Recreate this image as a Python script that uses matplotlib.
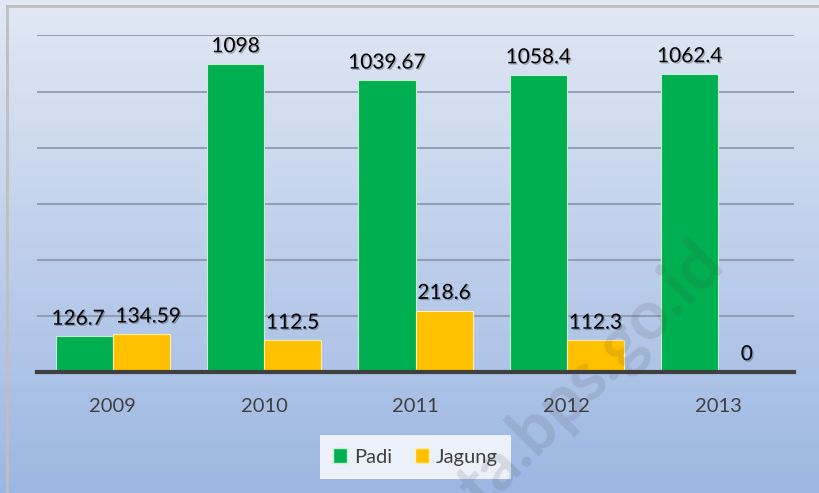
import numpy as np
import matplotlib
matplotlib.use("Agg")
import matplotlib.pyplot as plt
import matplotlib.patheffects as pe
from matplotlib.patches import Patch
from matplotlib.lines import Line2D

years = ["2009", "2010", "2011", "2012", "2013"]
padi = [126.7, 1098, 1039.67, 1058.4, 1062.4]
jagung = [134.59, 112.5, 218.6, 112.3, 0]
padi_labels = ["126.7", "1098", "1039.67", "1058.4", "1062.4"]
jagung_labels = ["134.59", "112.5", "218.6", "112.3", "0"]
series_names = ["Padi", "Jagung"]

GREEN = "#00B050"
YELLOW = "#FFC000"
FONT = ["Lato", "DejaVu Sans"]

W, H = 819, 493
fig = plt.figure(figsize=(W / 100, H / 100), dpi=100)

# background gradient
bg = fig.add_axes([0, 0, 1, 1], zorder=-10)
top = np.array([0.886, 0.910, 0.957])
bot = np.array([0.612, 0.718, 0.890])
t = np.linspace(0, 1, 256)[:, None]
grad = top[None, None, :] * (1 - t[..., None]) + bot[None, None, :] * t[..., None]
grad = np.repeat(grad, 2, axis=1)
bg.imshow(grad, aspect="auto", extent=[0, 1, 0, 1], origin="upper")
bg.set_xlim(0, 1); bg.set_ylim(0, 1)
bg.axis("off")
# frame lines (top and left)
bg.add_line(Line2D([7 / W, 1], [1 - 5.5 / H, 1 - 5.5 / H], color="#bfbfbf", lw=2))
bg.add_line(Line2D([7 / W, 7 / W], [0, 1 - 5.5 / H], color="#bfbfbf", lw=2))

ax = fig.add_axes([37 / W, 121 / H, 757 / W, 336.6 / H])
ax.set_facecolor("none")
x = np.arange(len(years))
bw = 0.377
b1 = ax.bar(x - bw / 2, padi, bw, color=GREEN, edgecolor="#c8f0d0", linewidth=0.8, zorder=3)
b2 = ax.bar(x + bw / 2, jagung, bw, color=YELLOW, edgecolor="#fff0b0", linewidth=0.8, zorder=3)

ax.set_xlim(-0.5, len(years) - 0.5)
ax.set_ylim(0, 1200)
ax.set_yticks([200, 400, 600, 800, 1000, 1200])
ax.yaxis.grid(True, color="#8f99ad", lw=1.3, zorder=0)
ax.tick_params(axis="y", left=False, labelleft=False)
for s in ["top", "right", "left"]:
    ax.spines[s].set_visible(False)
ax.spines["bottom"].set_color("#404040")
ax.spines["bottom"].set_linewidth(3)
ax.spines["bottom"].set_zorder(5)
ax.set_xticks(x)
ax.set_xticklabels(years, fontsize=14.5, color="#404040", family=FONT)
ax.tick_params(axis="x", bottom=False, pad=15)

shadow = [pe.SimplePatchShadow(offset=(1, -1), shadow_rgbFace="#000000", alpha=0.25), pe.Normal()]
# horizontal nudges (pixels) for the crowded 2009 labels
padi_dx = [-6, 0, 0, 0, 0]
jagung_dx = [7, 0, 0, 0, 0]
for bars, labels, dxs in ((b1, padi_labels, padi_dx), (b2, jagung_labels, jagung_dx)):
    for r, lab, dx in zip(bars, labels, dxs):
        ax.annotate(lab, (r.get_x() + r.get_width() / 2, r.get_height()),
                    xytext=(dx * 0.72, 8.5), textcoords="offset points",
                    ha="center", va="baseline", fontsize=15, family=FONT,
                    color="black", path_effects=shadow, annotation_clip=False, zorder=6)

# watermark (partly runs off the bottom edge, as in the source image)
fig.text(592 / W, 1 - 376 / H, "ta.bps.go.id", rotation=45, fontsize=49,
         fontweight="bold", family=FONT, color="#404040", alpha=0.13,
         ha="center", va="center", rotation_mode="anchor", zorder=20)

handles = [Patch(facecolor=GREEN, edgecolor="#c8f0d0", lw=1),
           Patch(facecolor=YELLOW, edgecolor="#fff0b0", lw=1)]
leg = fig.legend(handles, series_names, loc="center", ncol=2,
                 bbox_to_anchor=(415.5 / W, 1 - 457 / H),
                 prop={"family": FONT, "size": 14.5}, handlelength=0.72, handleheight=0.72,
                 handletextpad=0.35, columnspacing=1.1, frameon=True, fancybox=False,
                 borderpad=0.65, borderaxespad=0)
leg.get_frame().set_facecolor((1, 1, 1, 0.25))
leg.get_frame().set_edgecolor("none")
for txt in leg.get_texts():
    txt.set_color("#404040")

fig.savefig("out.png", dpi=100)
